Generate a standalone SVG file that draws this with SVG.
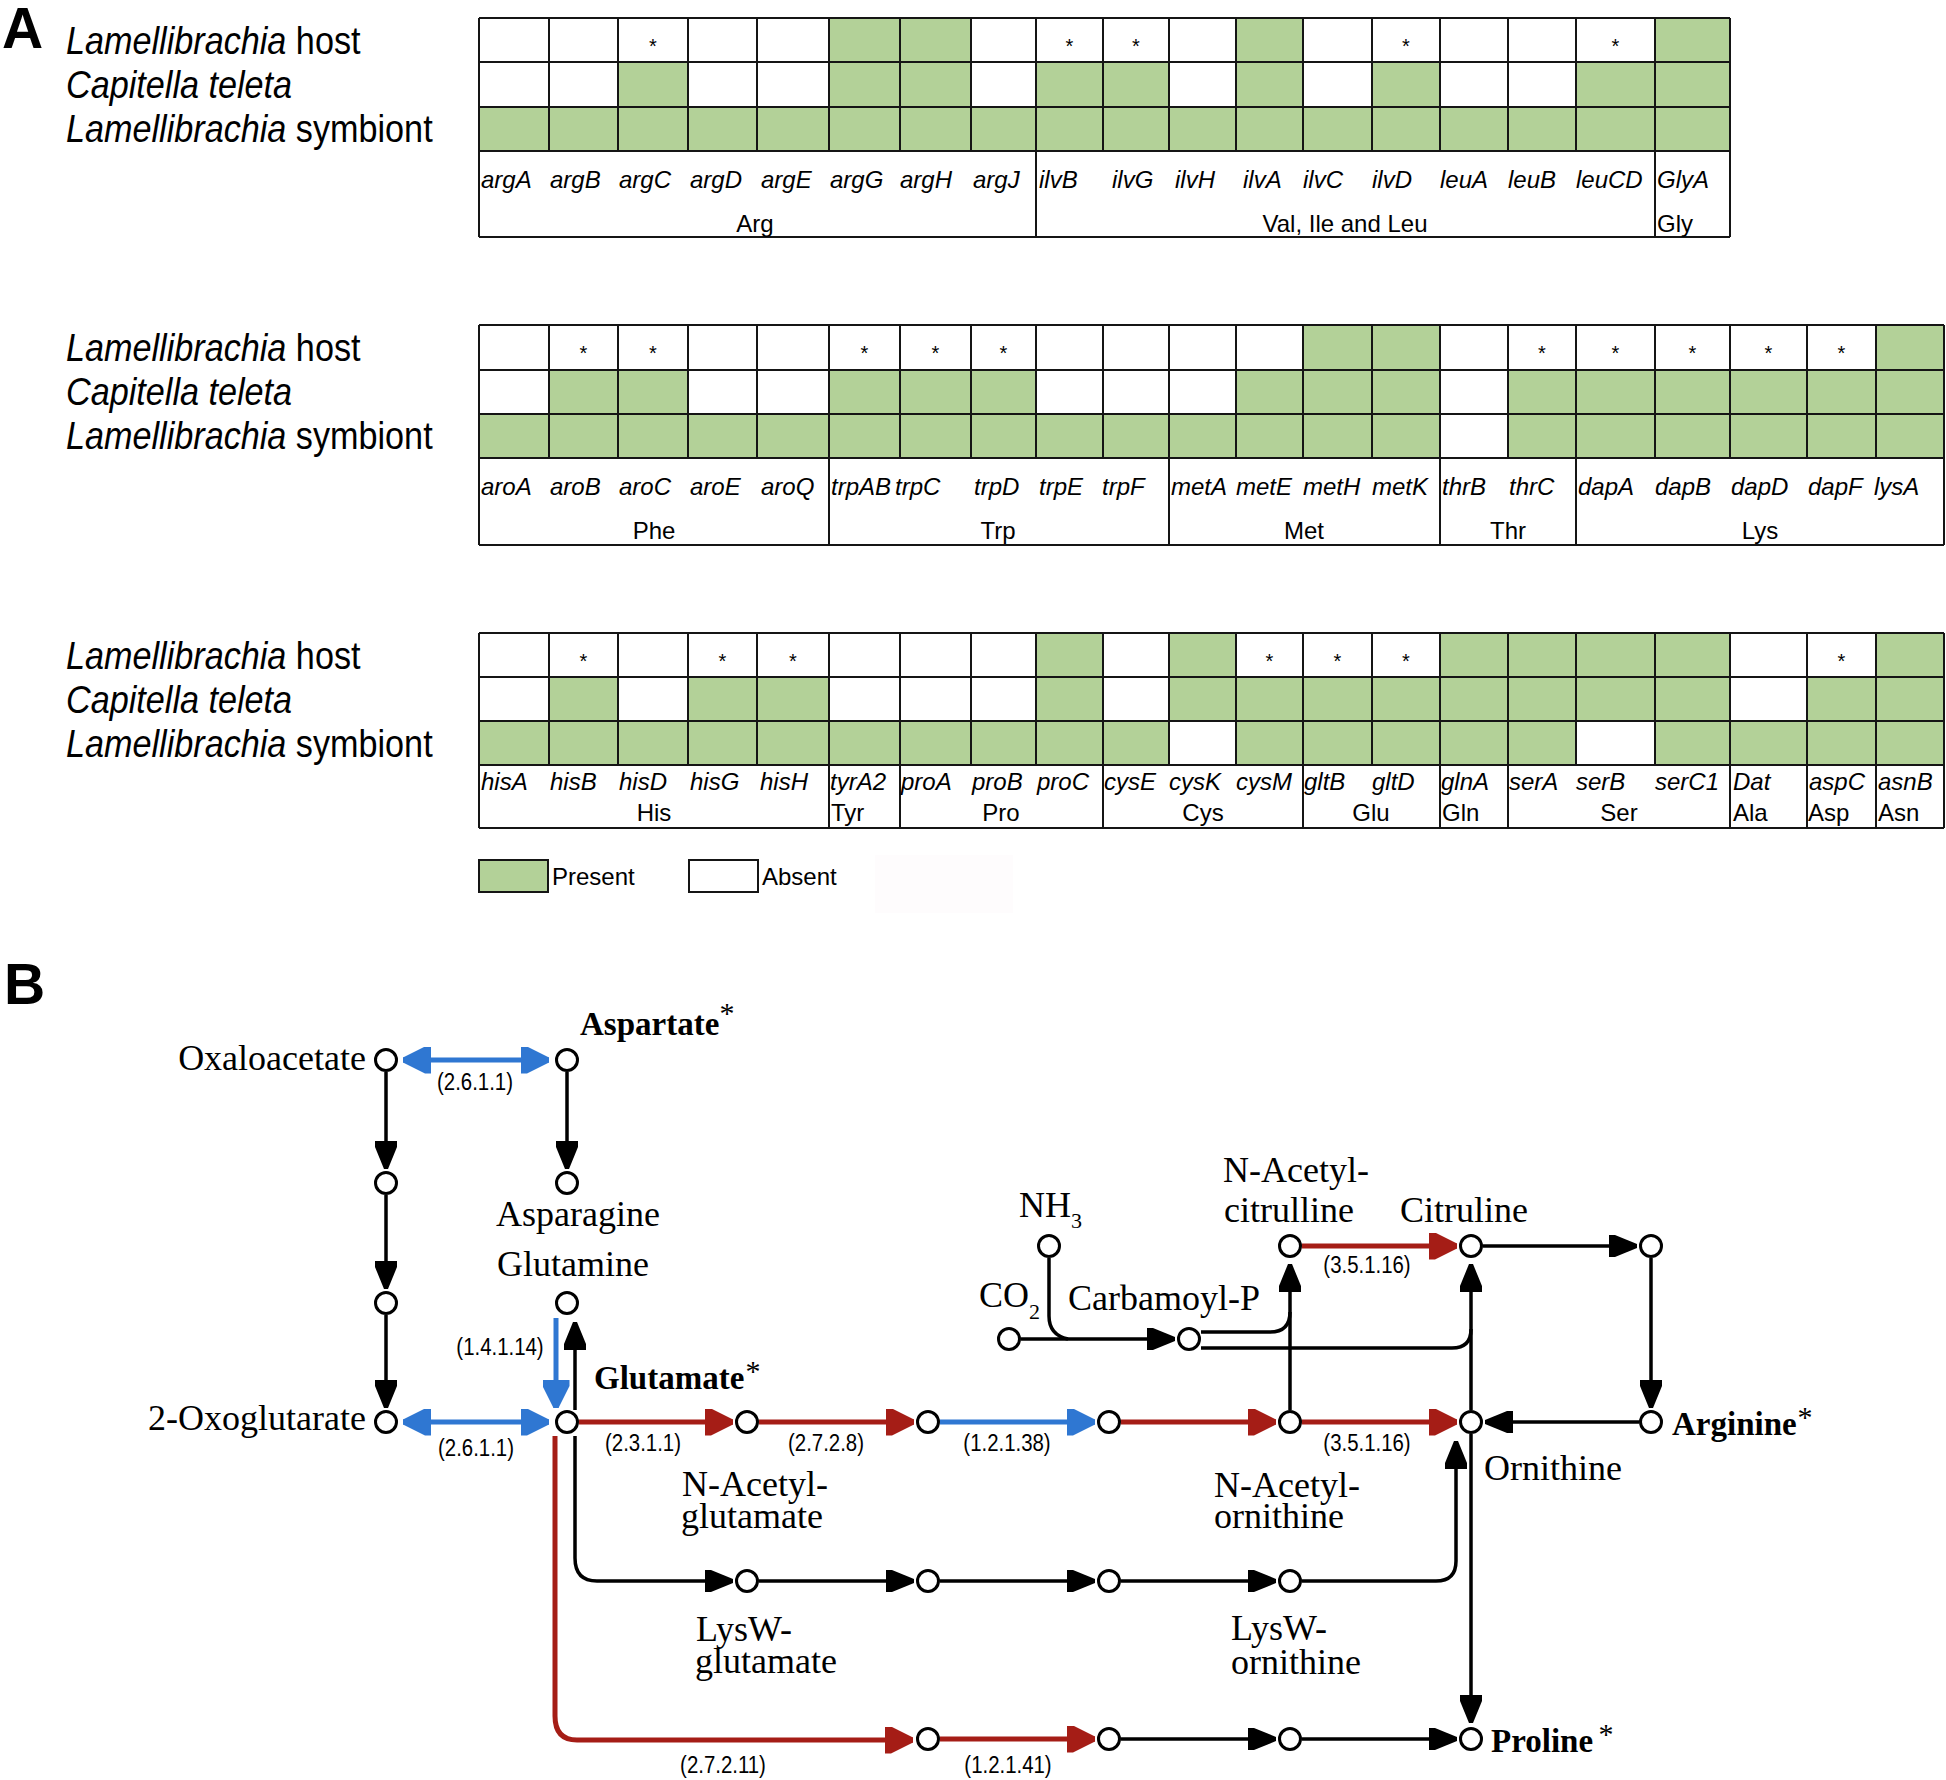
<svg xmlns="http://www.w3.org/2000/svg" width="1946" height="1780" viewBox="0 0 1946 1780">
<style>
.bg{fill:#fff}
.panel{font-family:"Liberation Sans",Arial,sans-serif;font-weight:bold;font-size:57px;fill:#000}
.row{font-family:"Liberation Sans",Arial,sans-serif;font-size:38px;fill:#000}
.gene{font-family:"Liberation Sans",Arial,sans-serif;font-style:italic;font-size:24px;fill:#000}
.grp{font-family:"Liberation Sans",Arial,sans-serif;font-size:24px;fill:#000}
.mid{text-anchor:middle}
.star{font-family:"Liberation Sans",Arial,sans-serif;font-size:20px;text-anchor:middle;fill:#000}
.g{fill:#b3d198}
.grid{stroke:#151515;stroke-width:2;fill:none}
.met{font-family:"Liberation Serif","Times New Roman",serif;font-size:36px;fill:#000}
.bold{font-weight:bold;font-size:33px}
.sub{font-size:22px}
.ast{font-family:"Liberation Serif","Times New Roman",serif;font-size:30px;fill:#000;text-anchor:middle}
.ec{font-family:"Liberation Sans",Arial,sans-serif;font-size:24px;fill:#000;text-anchor:middle}
.node{fill:#fff;stroke:#000;stroke-width:3}
.k{stroke:#000;stroke-width:3.5;fill:none}
.r{stroke:#a51d16;stroke-width:5;fill:none}
.b{stroke:#2f77d2;stroke-width:5;fill:none}
</style>
<defs>
<marker id="ak" viewBox="0 0 28 22" refX="28" refY="11" markerWidth="28" markerHeight="22" markerUnits="userSpaceOnUse" orient="auto-start-reverse"><path d="M0,0 L6,0 L28,9 L28,13 L6,22 L0,22 Z" fill="#000"/></marker>
<marker id="ar" viewBox="0 0 28 27" refX="28" refY="13.5" markerWidth="28" markerHeight="27" markerUnits="userSpaceOnUse" orient="auto-start-reverse"><path d="M0,0 L6,0 L28,11 L28,16 L6,27 L0,27 Z" fill="#a51d16"/></marker>
<marker id="ab" viewBox="0 0 28 27" refX="28" refY="13.5" markerWidth="28" markerHeight="27" markerUnits="userSpaceOnUse" orient="auto-start-reverse"><path d="M0,0 L6,0 L28,11 L28,16 L6,27 L0,27 Z" fill="#2f77d2"/></marker>
</defs>
<rect class="bg" x="0" y="0" width="1946" height="1780"/>
<rect x="875" y="855" width="138" height="58" fill="#fefcfd"/>

<!-- Panel A -->
<text class="panel" x="2" y="48">A</text>

<g id="table1">
<text class="row" transform="translate(66,54) scale(0.9,1)"><tspan font-style="italic">Lamellibrachia</tspan> host</text>
<text class="row" transform="translate(66,98) scale(0.9,1)"><tspan font-style="italic">Capitella teleta</tspan></text>
<text class="row" transform="translate(66,142) scale(0.9,1)"><tspan font-style="italic">Lamellibrachia</tspan> symbiont</text>
<rect class="g" x="829" y="18" width="142" height="44"/>
<rect class="g" x="1236" y="18" width="67" height="44"/>
<rect class="g" x="1655" y="18" width="75" height="44"/>
<rect class="g" x="618" y="62" width="70" height="45"/>
<rect class="g" x="829" y="62" width="142" height="45"/>
<rect class="g" x="1036" y="62" width="133" height="45"/>
<rect class="g" x="1236" y="62" width="67" height="45"/>
<rect class="g" x="1372" y="62" width="68" height="45"/>
<rect class="g" x="1576" y="62" width="154" height="45"/>
<rect class="g" x="479" y="107" width="1251" height="44"/>
<path class="grid" d="M479,18H1730M479,62H1730M479,107H1730M479,151H1730M479,237H1730M549,18V151M618,18V151M688,18V151M757,18V151M829,18V151M900,18V151M971,18V151M1103,18V151M1169,18V151M1236,18V151M1303,18V151M1372,18V151M1440,18V151M1508,18V151M1576,18V151M479,18V237M1036,18V237M1655,18V237M1730,18V237"/>
<text class="star" x="653" y="53">*</text>
<text class="star" x="1069.5" y="53">*</text>
<text class="star" x="1136" y="53">*</text>
<text class="star" x="1406" y="53">*</text>
<text class="star" x="1615.5" y="53">*</text>
<text class="gene" y="188"><tspan x="481">argA</tspan><tspan x="550">argB</tspan><tspan x="619">argC</tspan><tspan x="690">argD</tspan><tspan x="761">argE</tspan><tspan x="830">argG</tspan><tspan x="900">argH</tspan><tspan x="973">argJ</tspan><tspan x="1039">ilvB</tspan><tspan x="1112">ilvG</tspan><tspan x="1175">ilvH</tspan><tspan x="1243">ilvA</tspan><tspan x="1303">ilvC</tspan><tspan x="1372">ilvD</tspan><tspan x="1440">leuA</tspan><tspan x="1508">leuB</tspan><tspan x="1576">leuCD</tspan><tspan x="1657">GlyA</tspan></text>
<text class="grp mid" x="755" y="232">Arg</text>
<text class="grp mid" x="1345" y="232">Val, Ile and Leu</text>
<text class="grp" x="1657" y="232">Gly</text>
</g>

<g id="table2">
<text class="row" transform="translate(66,361) scale(0.9,1)"><tspan font-style="italic">Lamellibrachia</tspan> host</text>
<text class="row" transform="translate(66,405) scale(0.9,1)"><tspan font-style="italic">Capitella teleta</tspan></text>
<text class="row" transform="translate(66,449) scale(0.9,1)"><tspan font-style="italic">Lamellibrachia</tspan> symbiont</text>
<rect class="g" x="1303" y="325" width="137" height="45"/>
<rect class="g" x="1876" y="325" width="68" height="45"/>
<rect class="g" x="549" y="370" width="139" height="44"/>
<rect class="g" x="829" y="370" width="207" height="44"/>
<rect class="g" x="1236" y="370" width="204" height="44"/>
<rect class="g" x="1508" y="370" width="436" height="44"/>
<rect class="g" x="479" y="414" width="961" height="44"/>
<rect class="g" x="1508" y="414" width="436" height="44"/>
<path class="grid" d="M479,325H1944M479,370H1944M479,414H1944M479,458H1944M479,545H1944M549,325V458M618,325V458M688,325V458M757,325V458M900,325V458M971,325V458M1036,325V458M1103,325V458M1236,325V458M1303,325V458M1372,325V458M1508,325V458M1655,325V458M1730,325V458M1807,325V458M1876,325V458M479,325V545M829,325V545M1169,325V545M1440,325V545M1576,325V545M1944,325V545"/>
<text class="star" x="583.5" y="360">*</text>
<text class="star" x="653" y="360">*</text>
<text class="star" x="864.5" y="360">*</text>
<text class="star" x="935.5" y="360">*</text>
<text class="star" x="1003.5" y="360">*</text>
<text class="star" x="1542" y="360">*</text>
<text class="star" x="1615.5" y="360">*</text>
<text class="star" x="1692.5" y="360">*</text>
<text class="star" x="1768.5" y="360">*</text>
<text class="star" x="1841.5" y="360">*</text>
<text class="gene" y="495"><tspan x="481">aroA</tspan><tspan x="550">aroB</tspan><tspan x="619">aroC</tspan><tspan x="690">aroE</tspan><tspan x="761">aroQ</tspan><tspan x="831">trpAB</tspan><tspan x="895">trpC</tspan><tspan x="974">trpD</tspan><tspan x="1039">trpE</tspan><tspan x="1102">trpF</tspan><tspan x="1171">metA</tspan><tspan x="1236">metE</tspan><tspan x="1303">metH</tspan><tspan x="1372">metK</tspan><tspan x="1442">thrB</tspan><tspan x="1509">thrC</tspan><tspan x="1578">dapA</tspan><tspan x="1655">dapB</tspan><tspan x="1731">dapD</tspan><tspan x="1808">dapF</tspan><tspan x="1874">lysA</tspan></text>
<text class="grp mid" x="654" y="539">Phe</text>
<text class="grp mid" x="998" y="539">Trp</text>
<text class="grp mid" x="1304" y="539">Met</text>
<text class="grp mid" x="1508" y="539">Thr</text>
<text class="grp mid" x="1760" y="539">Lys</text>
</g>

<g id="table3">
<text class="row" transform="translate(66,669) scale(0.9,1)"><tspan font-style="italic">Lamellibrachia</tspan> host</text>
<text class="row" transform="translate(66,713) scale(0.9,1)"><tspan font-style="italic">Capitella teleta</tspan></text>
<text class="row" transform="translate(66,757) scale(0.9,1)"><tspan font-style="italic">Lamellibrachia</tspan> symbiont</text>
<rect class="g" x="1036" y="633" width="67" height="44"/>
<rect class="g" x="1169" y="633" width="67" height="44"/>
<rect class="g" x="1440" y="633" width="290" height="44"/>
<rect class="g" x="1876" y="633" width="68" height="44"/>
<rect class="g" x="549" y="677" width="69" height="44"/>
<rect class="g" x="688" y="677" width="141" height="44"/>
<rect class="g" x="1036" y="677" width="67" height="44"/>
<rect class="g" x="1169" y="677" width="561" height="44"/>
<rect class="g" x="1807" y="677" width="137" height="44"/>
<rect class="g" x="479" y="721" width="690" height="44"/>
<rect class="g" x="1236" y="721" width="340" height="44"/>
<rect class="g" x="1655" y="721" width="289" height="44"/>
<path class="grid" d="M479,633H1944M479,677H1944M479,721H1944M479,765H1944M479,828H1944M549,633V765M618,633V765M688,633V765M757,633V765M971,633V765M1036,633V765M1169,633V765M1236,633V765M1372,633V765M1576,633V765M1655,633V765M479,633V828M829,633V828M900,633V828M1103,633V828M1303,633V828M1440,633V828M1508,633V828M1730,633V828M1807,633V828M1876,633V828M1944,633V828"/>
<text class="star" x="583.5" y="668">*</text>
<text class="star" x="722.5" y="668">*</text>
<text class="star" x="793" y="668">*</text>
<text class="star" x="1269.5" y="668">*</text>
<text class="star" x="1337.5" y="668">*</text>
<text class="star" x="1406" y="668">*</text>
<text class="star" x="1841.5" y="668">*</text>
<text class="gene" y="790"><tspan x="481">hisA</tspan><tspan x="550">hisB</tspan><tspan x="619">hisD</tspan><tspan x="690">hisG</tspan><tspan x="760">hisH</tspan><tspan x="830">tyrA2</tspan><tspan x="901">proA</tspan><tspan x="972">proB</tspan><tspan x="1037">proC</tspan><tspan x="1104">cysE</tspan><tspan x="1169">cysK</tspan><tspan x="1236">cysM</tspan><tspan x="1304">gltB</tspan><tspan x="1372">gltD</tspan><tspan x="1441">glnA</tspan><tspan x="1509">serA</tspan><tspan x="1576">serB</tspan><tspan x="1655">serC1</tspan><tspan x="1733">Dat</tspan><tspan x="1809">aspC</tspan><tspan x="1878">asnB</tspan></text>
<text class="grp mid" x="654" y="821">His</text>
<text class="grp" x="831" y="821">Tyr</text>
<text class="grp mid" x="1001" y="821">Pro</text>
<text class="grp mid" x="1203" y="821">Cys</text>
<text class="grp mid" x="1371" y="821">Glu</text>
<text class="grp" x="1442" y="821">Gln</text>
<text class="grp mid" x="1619" y="821">Ser</text>
<text class="grp" x="1733" y="821">Ala</text>
<text class="grp" x="1808" y="821">Asp</text>
<text class="grp" x="1878" y="821">Asn</text>
</g>

<g id="legend">
<rect class="g" x="479" y="860" width="69" height="32" stroke="#151515" stroke-width="2"/>
<text class="grp" x="552" y="885">Present</text>
<rect x="689" y="860" width="69" height="32" fill="#fff" stroke="#151515" stroke-width="2"/>
<text class="grp" x="762" y="885">Absent</text>
</g>

<!-- Panel B -->
<text class="panel" x="4" y="1004">B</text>

<g id="connectors">
<path class="b" d="M403,1060H549" marker-start="url(#ab)" marker-end="url(#ab)"/>
<path class="b" d="M403,1422H549" marker-start="url(#ab)" marker-end="url(#ab)"/>
<path class="b" d="M556,1318V1408" marker-end="url(#ab)"/>
<path class="b" d="M940,1422H1095" marker-end="url(#ab)"/>
<path class="r" d="M579,1422H733" marker-end="url(#ar)"/>
<path class="r" d="M759,1422H914" marker-end="url(#ar)"/>
<path class="r" d="M1121,1422H1276" marker-end="url(#ar)"/>
<path class="r" d="M1302,1422H1457" marker-end="url(#ar)"/>
<path class="r" d="M1302,1246H1457" marker-end="url(#ar)"/>
<path class="r" d="M555,1436V1716Q555,1740 577,1740H913" marker-end="url(#ar)"/>
<path class="r" d="M940,1739H1095" marker-end="url(#ar)"/>
<path class="k" d="M386,1072V1169" marker-end="url(#ak)"/>
<path class="k" d="M386,1195V1289" marker-end="url(#ak)"/>
<path class="k" d="M386,1315V1408" marker-end="url(#ak)"/>
<path class="k" d="M567,1072V1169" marker-end="url(#ak)"/>
<path class="k" d="M575,1410V1322" marker-end="url(#ak)"/>
<path class="k" d="M1639,1422H1485" marker-end="url(#ak)"/>
<path class="k" d="M1483,1246H1637" marker-end="url(#ak)"/>
<path class="k" d="M1651,1258V1408" marker-end="url(#ak)"/>
<path class="k" d="M1290,1410V1264" marker-end="url(#ak)"/>
<path class="k" d="M1471,1410V1264" marker-end="url(#ak)"/>
<path class="k" d="M1021,1339H1175" marker-end="url(#ak)"/>
<path class="k" d="M1049,1258V1316Q1049,1335 1068,1339"/>
<path class="k" d="M1201,1332H1270Q1290,1332 1290,1312"/>
<path class="k" d="M1201,1348H1452Q1471,1348 1471,1329"/>
<path class="k" d="M575,1436V1558Q575,1581 597,1581H733" marker-end="url(#ak)"/>
<path class="k" d="M759,1581H914" marker-end="url(#ak)"/>
<path class="k" d="M940,1581H1095" marker-end="url(#ak)"/>
<path class="k" d="M1121,1581H1276" marker-end="url(#ak)"/>
<path class="k" d="M1302,1581H1436Q1456,1581 1456,1561V1441" marker-end="url(#ak)"/>
<path class="k" d="M1471,1434V1723" marker-end="url(#ak)"/>
<path class="k" d="M1121,1739H1276" marker-end="url(#ak)"/>
<path class="k" d="M1302,1739H1457" marker-end="url(#ak)"/>
<text class="ec" transform="translate(475,1090) scale(0.85,1)">(2.6.1.1)</text>
<text class="ec" transform="translate(476,1456) scale(0.85,1)">(2.6.1.1)</text>
<text class="ec" transform="translate(500,1355) scale(0.85,1)">(1.4.1.14)</text>
<text class="ec" transform="translate(643,1451) scale(0.85,1)">(2.3.1.1)</text>
<text class="ec" transform="translate(826,1451) scale(0.85,1)">(2.7.2.8)</text>
<text class="ec" transform="translate(1007,1451) scale(0.85,1)">(1.2.1.38)</text>
<text class="ec" transform="translate(1367,1451) scale(0.85,1)">(3.5.1.16)</text>
<text class="ec" transform="translate(1367,1273) scale(0.85,1)">(3.5.1.16)</text>
<text class="ec" transform="translate(723,1773) scale(0.85,1)">(2.7.2.11)</text>
<text class="ec" transform="translate(1008,1773) scale(0.85,1)">(1.2.1.41)</text>
</g>

<g id="n-oxaloacetate"><circle class="node" cx="386" cy="1060" r="10.5"/><text class="met" x="366" y="1070" text-anchor="end">Oxaloacetate</text></g>
<g id="n-aspartate"><circle class="node" cx="567" cy="1060" r="10.5"/><text class="met bold" x="580" y="1035">Aspartate</text><text class="ast" x="727" y="1023">*</text></g>
<g id="n-left2"><circle class="node" cx="386" cy="1183" r="10.5"/></g>
<g id="n-left3"><circle class="node" cx="386" cy="1303" r="10.5"/></g>
<g id="n-oxoglutarate"><circle class="node" cx="386" cy="1422" r="10.5"/><text class="met" x="366" y="1430" text-anchor="end">2-Oxoglutarate</text></g>
<g id="n-asparagine"><circle class="node" cx="567" cy="1183" r="10.5"/><text class="met" x="578" y="1226" text-anchor="middle">Asparagine</text></g>
<g id="n-glutamine"><circle class="node" cx="567" cy="1303" r="10.5"/><text class="met" x="573" y="1276" text-anchor="middle">Glutamine</text></g>
<g id="n-glutamate"><circle class="node" cx="567" cy="1422" r="10.5"/><text class="met bold" x="594" y="1389">Glutamate</text><text class="ast" x="753" y="1381">*</text></g>
<g id="n-acetylglutamate"><circle class="node" cx="747" cy="1422" r="10.5"/><text class="met"><tspan x="682" y="1496">N-Acetyl-</tspan><tspan x="681" y="1528">glutamate</tspan></text></g>
<g id="n-main3"><circle class="node" cx="928" cy="1422" r="10.5"/></g>
<g id="n-main4"><circle class="node" cx="1109" cy="1422" r="10.5"/></g>
<g id="n-acetylornithine"><circle class="node" cx="1290" cy="1422" r="10.5"/><text class="met"><tspan x="1214" y="1497">N-Acetyl-</tspan><tspan x="1214" y="1528">ornithine</tspan></text></g>
<g id="n-ornithine"><circle class="node" cx="1471" cy="1422" r="10.5"/><text class="met" x="1484" y="1480">Ornithine</text></g>
<g id="n-arginine"><circle class="node" cx="1651" cy="1422" r="10.5"/><text class="met bold" x="1672" y="1435">Arginine</text><text class="ast" x="1805" y="1427">*</text></g>
<g id="n-nh3"><circle class="node" cx="1049" cy="1246" r="10.5"/><text class="met" x="1019" y="1217">NH<tspan class="sub" dy="11">3</tspan></text></g>
<g id="n-co2"><circle class="node" cx="1009" cy="1339" r="10.5"/><text class="met" x="979" y="1307">CO<tspan class="sub" dy="12">2</tspan></text></g>
<g id="n-carbamoylp"><circle class="node" cx="1189" cy="1339" r="10.5"/><text class="met" x="1068" y="1310">Carbamoyl-P</text></g>
<g id="n-acetylcitrulline"><circle class="node" cx="1290" cy="1246" r="10.5"/><text class="met"><tspan x="1223" y="1182">N-Acetyl-</tspan><tspan x="1224" y="1222">citrulline</tspan></text></g>
<g id="n-citruline"><circle class="node" cx="1471" cy="1246" r="10.5"/><text class="met" x="1400" y="1222">Citruline</text></g>
<g id="n-top3"><circle class="node" cx="1651" cy="1246" r="10.5"/></g>
<g id="n-lyswglutamate"><circle class="node" cx="747" cy="1581" r="10.5"/><text class="met"><tspan x="696" y="1641">LysW-</tspan><tspan x="695" y="1673">glutamate</tspan></text></g>
<g id="n-lys2"><circle class="node" cx="928" cy="1581" r="10.5"/></g>
<g id="n-lys3"><circle class="node" cx="1109" cy="1581" r="10.5"/></g>
<g id="n-lyswornithine"><circle class="node" cx="1290" cy="1581" r="10.5"/><text class="met"><tspan x="1231" y="1640">LysW-</tspan><tspan x="1231" y="1674">ornithine</tspan></text></g>
<g id="n-pro1"><circle class="node" cx="928" cy="1739" r="10.5"/></g>
<g id="n-pro2"><circle class="node" cx="1109" cy="1739" r="10.5"/></g>
<g id="n-pro3"><circle class="node" cx="1290" cy="1739" r="10.5"/></g>
<g id="n-proline"><circle class="node" cx="1471" cy="1739" r="10.5"/><text class="met bold" x="1491" y="1752">Proline</text><text class="ast" x="1606" y="1744">*</text></g>
</svg>
